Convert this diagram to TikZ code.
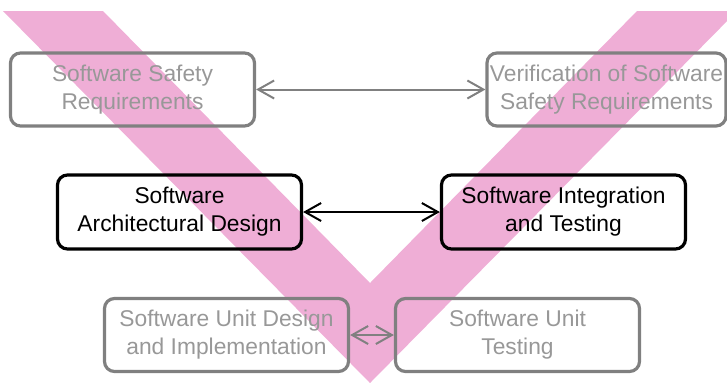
\documentclass[tikz,border=0pt]{standalone}
\usepackage{fontspec}
\setmainfont{Liberation Sans}
\usetikzlibrary{arrows.meta}
\definecolor{vpink}{RGB}{239,174,214}
\definecolor{boxgray}{RGB}{128,128,128}
\definecolor{textgray}{RGB}{152,152,152}
\tikzset{
  linkarrow/.style={{Straight Barb[length=8pt,width=9pt]}-{Straight Barb[length=8pt,width=9pt]}, line width=1pt},
  phasebox/.style={draw=boxgray, text=textgray, rounded corners=5pt, line width=1.6pt, minimum width=122pt, minimum height=36.5pt, inner sep=0pt, align=center},
  activebox/.style={draw=black, text=black, rounded corners=5pt, line width=1.6pt, minimum width=122pt, minimum height=37pt, inner sep=0pt, align=center}
}

\begin{document}
\begin{tikzpicture}[x=0.5pt, y=-0.5pt, every node/.style={font=\fontsize{11.4}{14}\selectfont}]
  \useasboundingbox (0,0) rectangle (727,382);
  % the V behind the boxes
  \fill[vpink] (3,11) -- (103,11) -- (370,283) -- (637,11) -- (737,11) -- (370,383) -- cycle;

  \node[phasebox] (safereq) at (132.5,89.5) {Software Safety\\ Requirements};
  \node[phasebox, minimum width=119.5pt] (verifreq) at (606.5,89.5) {Verification of Software\\ Safety Requirements};
  \node[activebox] (archdes) at (179.5,212) {Software\\ Architectural Design};
  \node[activebox] (integtest) at (563.5,212) {Software Integration\\ and Testing};
  \node[phasebox] (unitdes) at (226.5,335) {Software Unit Design\\ and Implementation};
  \node[phasebox] (unittest) at (517.5,335) {Software Unit\\ Testing};

  \draw[linkarrow, boxgray] (safereq) -- (verifreq);
  \draw[linkarrow, black] (archdes) -- (integtest);
  \draw[linkarrow, boxgray] (unitdes) -- (unittest);
\end{tikzpicture}
\end{document}
